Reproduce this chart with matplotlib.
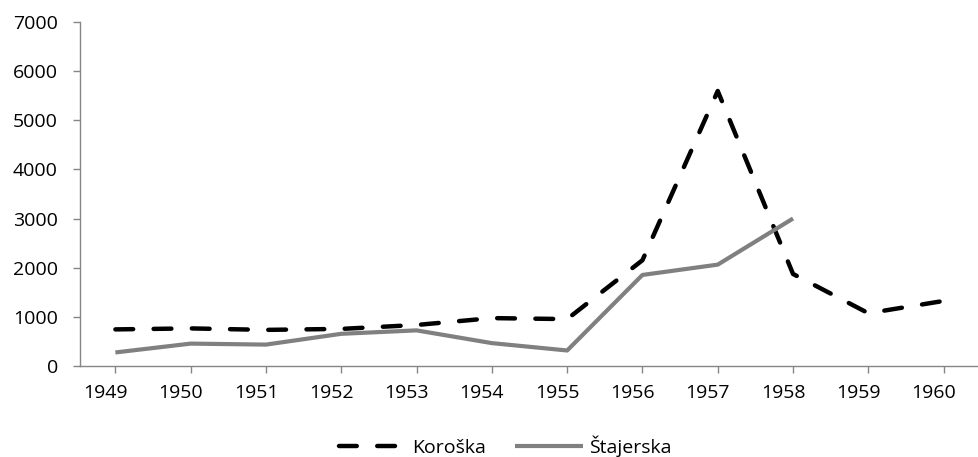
import matplotlib
matplotlib.use("Agg")
import matplotlib.pyplot as plt
from matplotlib.transforms import ScaledTranslation

years = ['1949', '1950', '1951', '1952', '1953', '1954', '1955', '1956',
         '1957', '1958', '1959', '1960']
koroska = [740, 760, 730, 750, 830, 970, 950, 2150, 5600, 1870, 1070, 1320]
stajerska = [270, 450, 430, 650, 720, 460, 310, 1850, 2060, 3000]

plt.rcParams['font.family'] = ['Open Sans', 'DejaVu Sans']
plt.rcParams['font.size'] = 14

fig = plt.figure(figsize=(9.79, 4.57), dpi=100)
ax = fig.add_axes([80 / 979, 0.1998, 899 / 979, 0.7514])

x = list(range(len(years)))
ax.plot(x, koroska, color='black', lw=3.2, dashes=(4.0, 4.6),
        dash_capstyle='round', label='Koroška')
ax.plot(x[:len(stajerska)], stajerska, color='#808080', lw=3,
        solid_capstyle='butt', label='Štajerska')

ax.set_xlim(-0.47, len(years) - 0.53)
ax.set_ylim(0, 7000)
ax.set_yticks(range(0, 7001, 1000))
ax.set_xticks(x)
ax.set_xticklabels(years)

for s in ['top', 'right']:
    ax.spines[s].set_visible(False)
for s in ['left', 'bottom']:
    ax.spines[s].set_color('#868686')
    ax.spines[s].set_linewidth(1)
ax.tick_params(axis='both', colors='#868686', labelcolor='black',
               length=5, width=1, direction='out')
ax.tick_params(axis='x', pad=8)
ax.tick_params(axis='y', pad=11)

# category labels sit a little left of their ticks in the original
shift = ScaledTranslation(-10 / 100, 0, fig.dpi_scale_trans)
for lab in ax.get_xticklabels():
    lab.set_transform(lab.get_transform() + shift)

ax.legend(loc='center', bbox_to_anchor=(0.473, -0.234), ncol=2,
          frameon=False, handlelength=3.45, columnspacing=1.5,
          handletextpad=0.35)

fig.savefig('out.png', dpi=100)
